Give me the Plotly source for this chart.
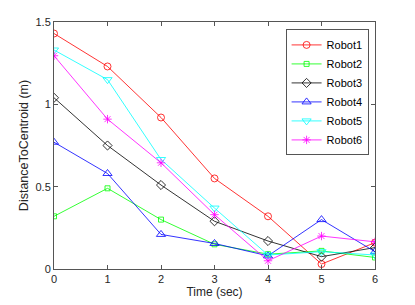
import plotly.graph_objects as go

time = [0, 1, 2, 3, 4, 5, 6]
names = ["Robot1", "Robot2", "Robot3", "Robot4", "Robot5", "Robot6"]
robot1 = [1.43, 1.23, 0.92, 0.55, 0.32, 0.03, 0.16]
robot2 = [0.32, 0.49, 0.30, 0.15, 0.09, 0.11, 0.07]
robot3 = [1.04, 0.75, 0.51, 0.29, 0.17, 0.075, 0.13]
robot4 = [0.77, 0.58, 0.21, 0.155, 0.08, 0.30, 0.105]
robot5 = [1.33, 1.15, 0.665, 0.37, 0.085, 0.105, 0.085]
robot6 = [1.295, 0.91, 0.645, 0.33, 0.05, 0.20, 0.165]
series = [robot1, robot2, robot3, robot4, robot5, robot6]

colors = ["#ff0000", "#00ff00", "#000000", "#0000ff", "#00ffff", "#ff00ff"]
symbols = ["circle-open", "square-open", "diamond-open", "triangle-up-open",
           "triangle-down-open", "asterisk-open"]
sizes = [7, 5, 7, 8, 8, 7]

fig = go.Figure()
for name, vals, c, s, sz in zip(names, series, colors, symbols, sizes):
    fig.add_trace(go.Scatter(
        x=time, y=vals, name=name, mode="lines+markers",
        line=dict(color=c, width=0.8),
        marker=dict(symbol=s, size=sz, color=c, line=dict(color=c, width=0.8)),
    ))

axis_common = dict(
    showline=True, linecolor="#555555", linewidth=1, mirror="ticks",
    ticks="inside", ticklen=4, tickcolor="#555555", showgrid=False,
    zeroline=False, automargin=False,
    tickfont=dict(family="Liberation Sans, Arial", size=11, color="#262626"),
)

fig.update_layout(
    width=415, height=305,
    margin=dict(l=54, r=40, t=22, b=36),
    paper_bgcolor="white", plot_bgcolor="white",
    font=dict(family="Liberation Sans, Arial", size=11, color="#262626"),
    xaxis=dict(range=[0, 6], tickvals=[0, 1, 2, 3, 4, 5, 6],
               title=dict(text="Time (sec)", font=dict(size=12), standoff=2), **axis_common),
    yaxis=dict(range=[0, 1.5], tickvals=[0, 0.5, 1, 1.5], ticktext=["0", "0.5", "1", "1.5"],
               title=dict(text="DistanceToCentroid (m)", font=dict(size=12.5), standoff=4), **axis_common),
    legend=dict(x=0.98, y=0.97, xanchor="right", yanchor="top",
                bordercolor="#555555", borderwidth=1, bgcolor="white",
                font=dict(size=11, color="#000000"), tracegroupgap=0,
                itemwidth=30),
    showlegend=True,
)

fig.write_html("out.html", config={"displayModeBar": False},
               post_script="document.body.style.margin='0';")
